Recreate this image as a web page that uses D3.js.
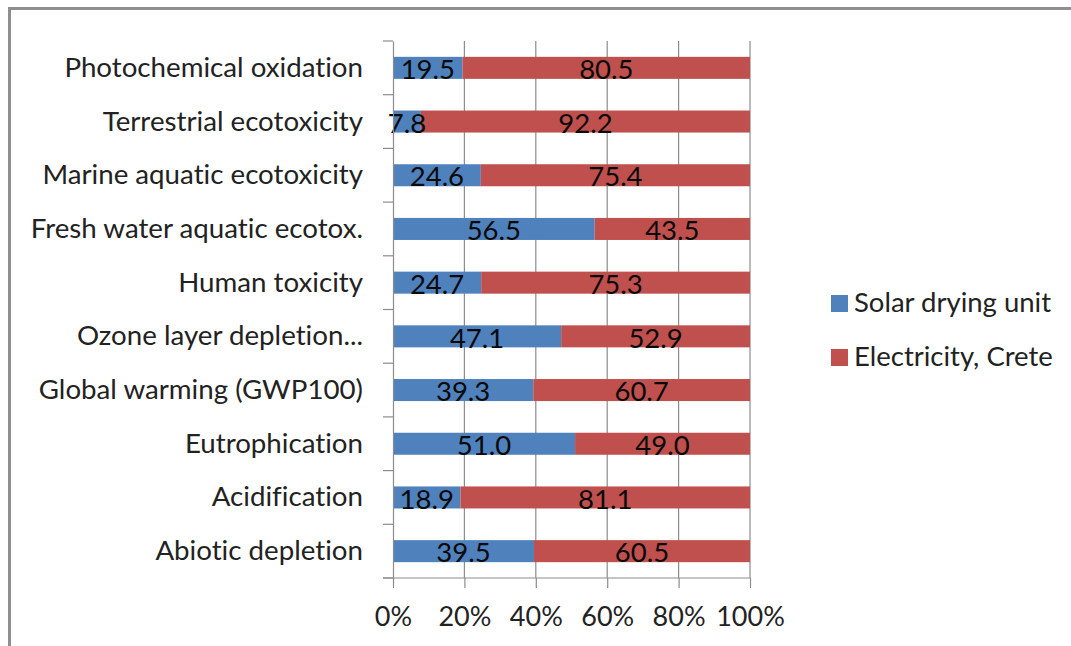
<!DOCTYPE html>
<html>
<head>
<meta charset="utf-8">
<script src="https://cdn.jsdelivr.net/npm/d3@7"></script>
<style>
  html, body { margin: 0; padding: 0; background: #fff; }
  svg { display: block; }
  text { font-family: Lato, "Open Sans", sans-serif; font-variant-ligatures: none; font-feature-settings: "liga" 0, "clig" 0; }
</style>
</head>
<body>
<svg id="chart" width="1071" height="646"></svg>
<script>
// Impact categories, listed top to bottom
const categories = [
  "Photochemical oxidation",
  "Terrestrial ecotoxicity",
  "Marine aquatic ecotoxicity",
  "Fresh water aquatic ecotox.",
  "Human toxicity",
  "Ozone layer depletion...",
  "Global warming (GWP100)",
  "Eutrophication",
  "Acidification",
  "Abiotic depletion"
];

// Share of each impact (%) per scenario
const solarDrying = [19.5, 7.8, 24.6, 56.5, 24.7, 47.1, 39.3, 51.0, 18.9, 39.5];
const electricityCrete = [80.5, 92.2, 75.4, 43.5, 75.3, 52.9, 60.7, 49.0, 81.1, 60.5];

const seriesNames = ["Solar drying unit", "Electricity, Crete"];
const seriesColors = ["#4F81BD", "#C0504D"];
const xTicks = [0, 20, 40, 60, 80, 100];

const svg = d3.select("#chart");

// Outer frame (top and left edges)
svg.append("path")
  .attr("d", "M9.5,646 V8.5 H1071")
  .attr("fill", "none")
  .attr("stroke", "#8f8f8f")
  .attr("stroke-width", 3);

const plot = { left: 393, right: 750, top: 41, bottom: 578 };

const x = d3.scaleLinear().domain([0, 100]).range([plot.left, plot.right]);
const y = d3.scaleBand()
  .domain(categories)
  .range([plot.top, plot.bottom])
  .paddingInner(0.59)
  .paddingOuter(0.295);

const step = y.step();
const gridColor = "#8c8c8c";

// Vertical gridlines
svg.append("g")
  .selectAll("line")
  .data(xTicks.filter(d => d > 0))
  .join("line")
  .attr("x1", d => x(d)).attr("x2", d => x(d))
  .attr("y1", plot.top).attr("y2", plot.bottom)
  .attr("stroke", gridColor).attr("stroke-width", 1.2);

// Stacked data
const rows = categories.map((c, i) => ({ cat: c, vals: [solarDrying[i], electricityCrete[i]] }));
const stacked = d3.stack().keys([0, 1]).value((d, k) => d.vals[k])(rows);

const barG = svg.append("g");
stacked.forEach((layer, k) => {
  barG.append("g")
    .attr("fill", seriesColors[k])
    .selectAll("rect")
    .data(layer)
    .join("rect")
    .attr("x", d => x(d[0]))
    .attr("y", d => y(d.data.cat))
    .attr("width", d => x(d[1]) - x(d[0]))
    .attr("height", y.bandwidth());
});

// Value labels centred in each segment
const labelG = svg.append("g");
stacked.forEach((layer, k) => {
  labelG.append("g")
    .selectAll("text")
    .data(layer)
    .join("text")
    .attr("x", d => x((d[0] + d[1]) / 2))
    .attr("y", d => y(d.data.cat) + y.bandwidth() / 2 + 11.2)
    .attr("text-anchor", "middle")
    .attr("font-size", 27.5)
    .attr("fill", "#0a0a0a")
    .text(d => d3.format(".1f")(d.data.vals[k]));
});

// Left category axis
const yAxis = d3.axisLeft(y).tickSize(0).tickPadding(30);
const yg = svg.append("g")
  .attr("transform", `translate(${plot.left},0)`)
  .call(yAxis);
yg.select(".domain").attr("stroke", gridColor).attr("stroke-width", 1.2);
yg.selectAll(".tick text")
  .attr("font-size", 27.7)
  .attr("fill", "#222")
  .attr("dy", null)
  .attr("dominant-baseline", null)
  .attr("y", 9);

// Category separator ticks on the left axis
svg.append("g")
  .selectAll("line")
  .data(d3.range(categories.length + 1))
  .join("line")
  .attr("x1", plot.left - 10).attr("x2", plot.left)
  .attr("y1", i => plot.top + i * step).attr("y2", i => plot.top + i * step)
  .attr("stroke", gridColor).attr("stroke-width", 1.2);

// Bottom percentage axis
const xAxis = d3.axisBottom(x)
  .tickValues(xTicks)
  .tickFormat(d => d + "%")
  .tickSize(10)
  .tickSizeOuter(0)
  .tickPadding(0);
const xg = svg.append("g")
  .attr("transform", `translate(0,${plot.bottom})`)
  .call(xAxis);
xg.select(".domain").remove();
xg.append("line")
  .attr("x1", plot.left - 10).attr("x2", plot.right)
  .attr("y1", 0).attr("y2", 0)
  .attr("stroke", gridColor).attr("stroke-width", 1.2);
xg.selectAll(".tick line").attr("stroke", gridColor).attr("stroke-width", 1.2);
xg.selectAll(".tick text")
  .attr("font-size", 27)
  .attr("fill", "#222")
  .attr("dy", null)
  .attr("y", 48);

// Legend
const legend = svg.append("g")
  .selectAll("g")
  .data(seriesNames)
  .join("g")
  .attr("transform", (d, i) => `translate(831,${295 + i * 54})`);
legend.append("rect")
  .attr("width", 17).attr("height", 17)
  .attr("fill", (d, i) => seriesColors[i]);
legend.append("text")
  .attr("x", 23).attr("y", 16.5)
  .attr("font-size", 27.5)
  .attr("fill", "#222")
  .text(d => d);
</script>
</body>
</html>
